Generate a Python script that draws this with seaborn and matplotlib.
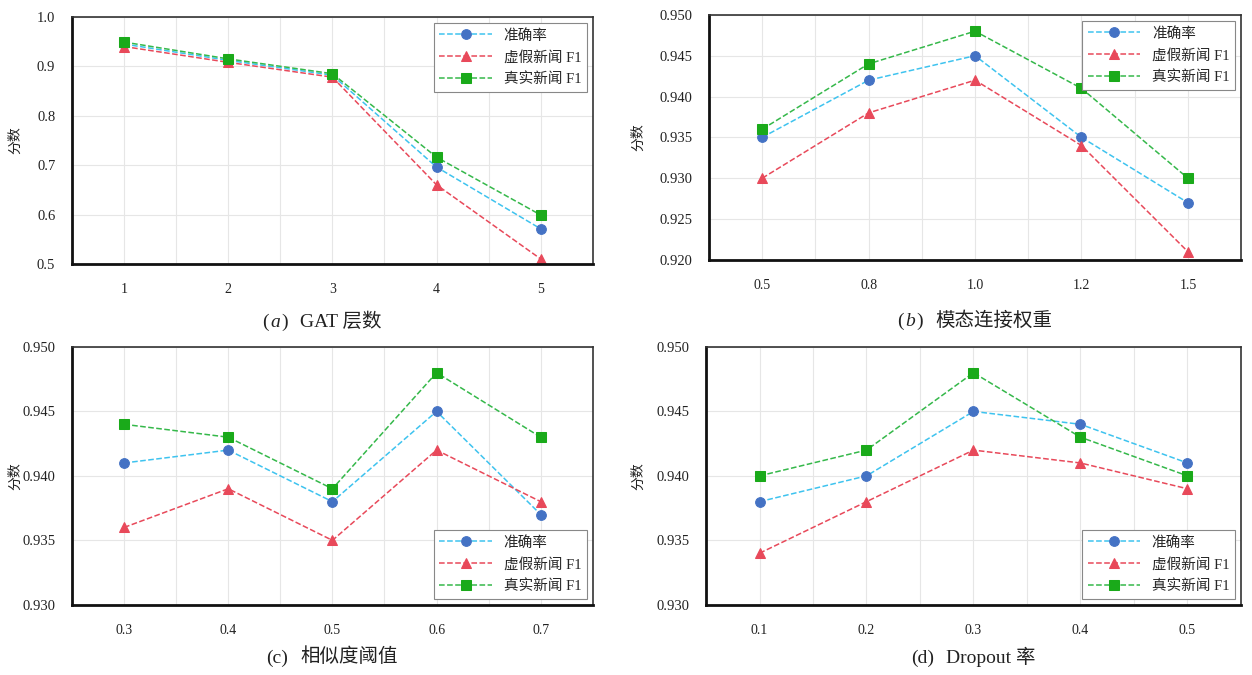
import seaborn as sns
import matplotlib.pyplot as plt
import numpy as np
import pandas as pd
from matplotlib.offsetbox import TextArea, HPacker, AnchoredOffsetbox

# 数据
series_names = ["准确率", "虚假新闻 F1", "真实新闻 F1"]

# (a) GAT 层数
a_x = ["1", "2", "3", "4", "5"]
a_acc = [0.945, 0.912, 0.882, 0.696, 0.571]
a_fake = [0.940, 0.908, 0.878, 0.660, 0.510]
a_real = [0.949, 0.915, 0.885, 0.716, 0.599]

# (b) 模态连接权重
b_x = ["0.5", "0.8", "1.0", "1.2", "1.5"]
b_acc = [0.935, 0.942, 0.945, 0.935, 0.927]
b_fake = [0.930, 0.938, 0.942, 0.934, 0.921]
b_real = [0.936, 0.944, 0.948, 0.941, 0.930]

# (c) 相似度阈值
c_x = ["0.3", "0.4", "0.5", "0.6", "0.7"]
c_acc = [0.941, 0.942, 0.938, 0.945, 0.937]
c_fake = [0.936, 0.939, 0.935, 0.942, 0.938]
c_real = [0.944, 0.943, 0.939, 0.948, 0.943]

# (d) Dropout 率
d_x = ["0.1", "0.2", "0.3", "0.4", "0.5"]
d_acc = [0.938, 0.940, 0.945, 0.944, 0.941]
d_fake = [0.934, 0.938, 0.942, 0.941, 0.939]
d_real = [0.940, 0.942, 0.948, 0.943, 0.940]

sns.set_style("white")
plt.rcParams['font.family'] = ['Liberation Serif', 'Noto Sans CJK SC']

line_colors = ["#3ec3ef", "#e8495a", "#35b84a"]
marker_colors = ["#4472c4", "#e8495a", "#1aaa1a"]
markers = ["o", "^", "s"]

fig = plt.figure(figsize=(12.52, 6.75), dpi=100)

# rect, x 标签, 数据, y 范围, y 刻度, 格式, 图例位置, 题注, ylabel x 位置, 题注 y 位置
panels = [
    ([0.0575, 0.609, 0.416, 0.366], a_x, [a_acc, a_fake, a_real], (0.5, 1.0),
     np.arange(0.5, 1.01, 0.1), "%.1f", "upper right", ("(", "a", ")", "GAT 层数"), -0.096, -0.176),
    ([0.5663, 0.615, 0.425, 0.363], b_x, [b_acc, b_fake, b_real], (0.92, 0.95),
     np.arange(0.92, 0.9501, 0.005), "%.3f", "upper right", ("(", "b", ")", "模态连接权重"), -0.12, -0.188),
    ([0.0575, 0.104, 0.416, 0.382], c_x, [c_acc, c_fake, c_real], (0.93, 0.95),
     np.arange(0.93, 0.9501, 0.005), "%.3f", "lower right", ("(c)", "", "", "相似度阈值"), -0.096, -0.145),
    ([0.5639, 0.104, 0.4273, 0.382], d_x, [d_acc, d_fake, d_real], (0.93, 0.95),
     np.arange(0.93, 0.9501, 0.005), "%.3f", "lower right", ("(d)", "", "", "Dropout 率"), -0.114, -0.141),
]

for rect, xs, ys, ylim, yticks, fmt, loc, cap, ylx, capy in panels:
    ax = fig.add_axes(rect)
    pos = np.arange(1, len(xs) + 1)
    for name, vals, lc, mc, m in zip(series_names, ys, line_colors, marker_colors, markers):
        sns.lineplot(x=pos, y=vals, ax=ax, color=lc, linestyle="--", linewidth=1.1,
                     marker=m, markersize=7.5 if m == "^" else 7, markerfacecolor=mc,
                     markeredgecolor=mc, label=name)
    ax.set_xlim(0.5, len(xs) + 0.5)
    ax.set_ylim(*ylim)
    ax.set_xticks(pos)
    ax.set_xticklabels(xs)
    ax.set_xticks(pos[:-1] + 0.5, minor=True)
    ax.set_yticks(yticks)
    ax.set_yticklabels([fmt % v for v in yticks])
    ax.grid(True, which="both", axis="x", color="#e6e6e6", linewidth=0.8)
    ax.grid(True, which="major", axis="y", color="#e6e6e6", linewidth=0.8)
    ax.tick_params(axis="x", which="major", direction="in", length=5, width=1.5,
                   pad=14, labelsize=10, colors="#222222")
    ax.tick_params(axis="x", which="minor", length=0)
    ax.tick_params(axis="y", length=0, pad=12, labelsize=10.5, colors="#222222")
    for s in ["left", "bottom"]:
        ax.spines[s].set_linewidth(2)
        ax.spines[s].set_color("#111111")
    for s in ["top", "right"]:
        ax.spines[s].set_linewidth(1.2)
        ax.spines[s].set_color("#333333")
    ax.set_xlabel("")
    ax.set_ylabel("分数", fontsize=10, color="#222222")
    ax.yaxis.set_label_coords(ylx, 0.5)

    # 题注
    props = dict(fontsize=14, color="#222222")
    parts = [TextArea(cap[0], textprops=props)]
    if cap[1]:
        parts.append(TextArea(cap[1], textprops=dict(props, style="italic")))
        parts.append(TextArea(cap[2], textprops=props))
    body = HPacker(children=parts, pad=0, sep=1)
    box = HPacker(children=[body, TextArea(cap[3], textprops=props)], pad=0, sep=9,
                  align="baseline")
    ab = AnchoredOffsetbox(loc="upper center", child=box, frameon=False,
                           bbox_to_anchor=(0.48 if cap[3] == "GAT 层数" else 0.5, capy),
                           bbox_transform=ax.transAxes, borderpad=0)
    ax.add_artist(ab)

    leg = ax.legend(loc=loc, fancybox=False, framealpha=1, edgecolor="#888888",
                    fontsize=10.5, handlelength=3.6, borderaxespad=0.4,
                    labelspacing=0.55)
    leg.get_frame().set_linewidth(0.8)

fig.savefig("out.png", dpi=100)
